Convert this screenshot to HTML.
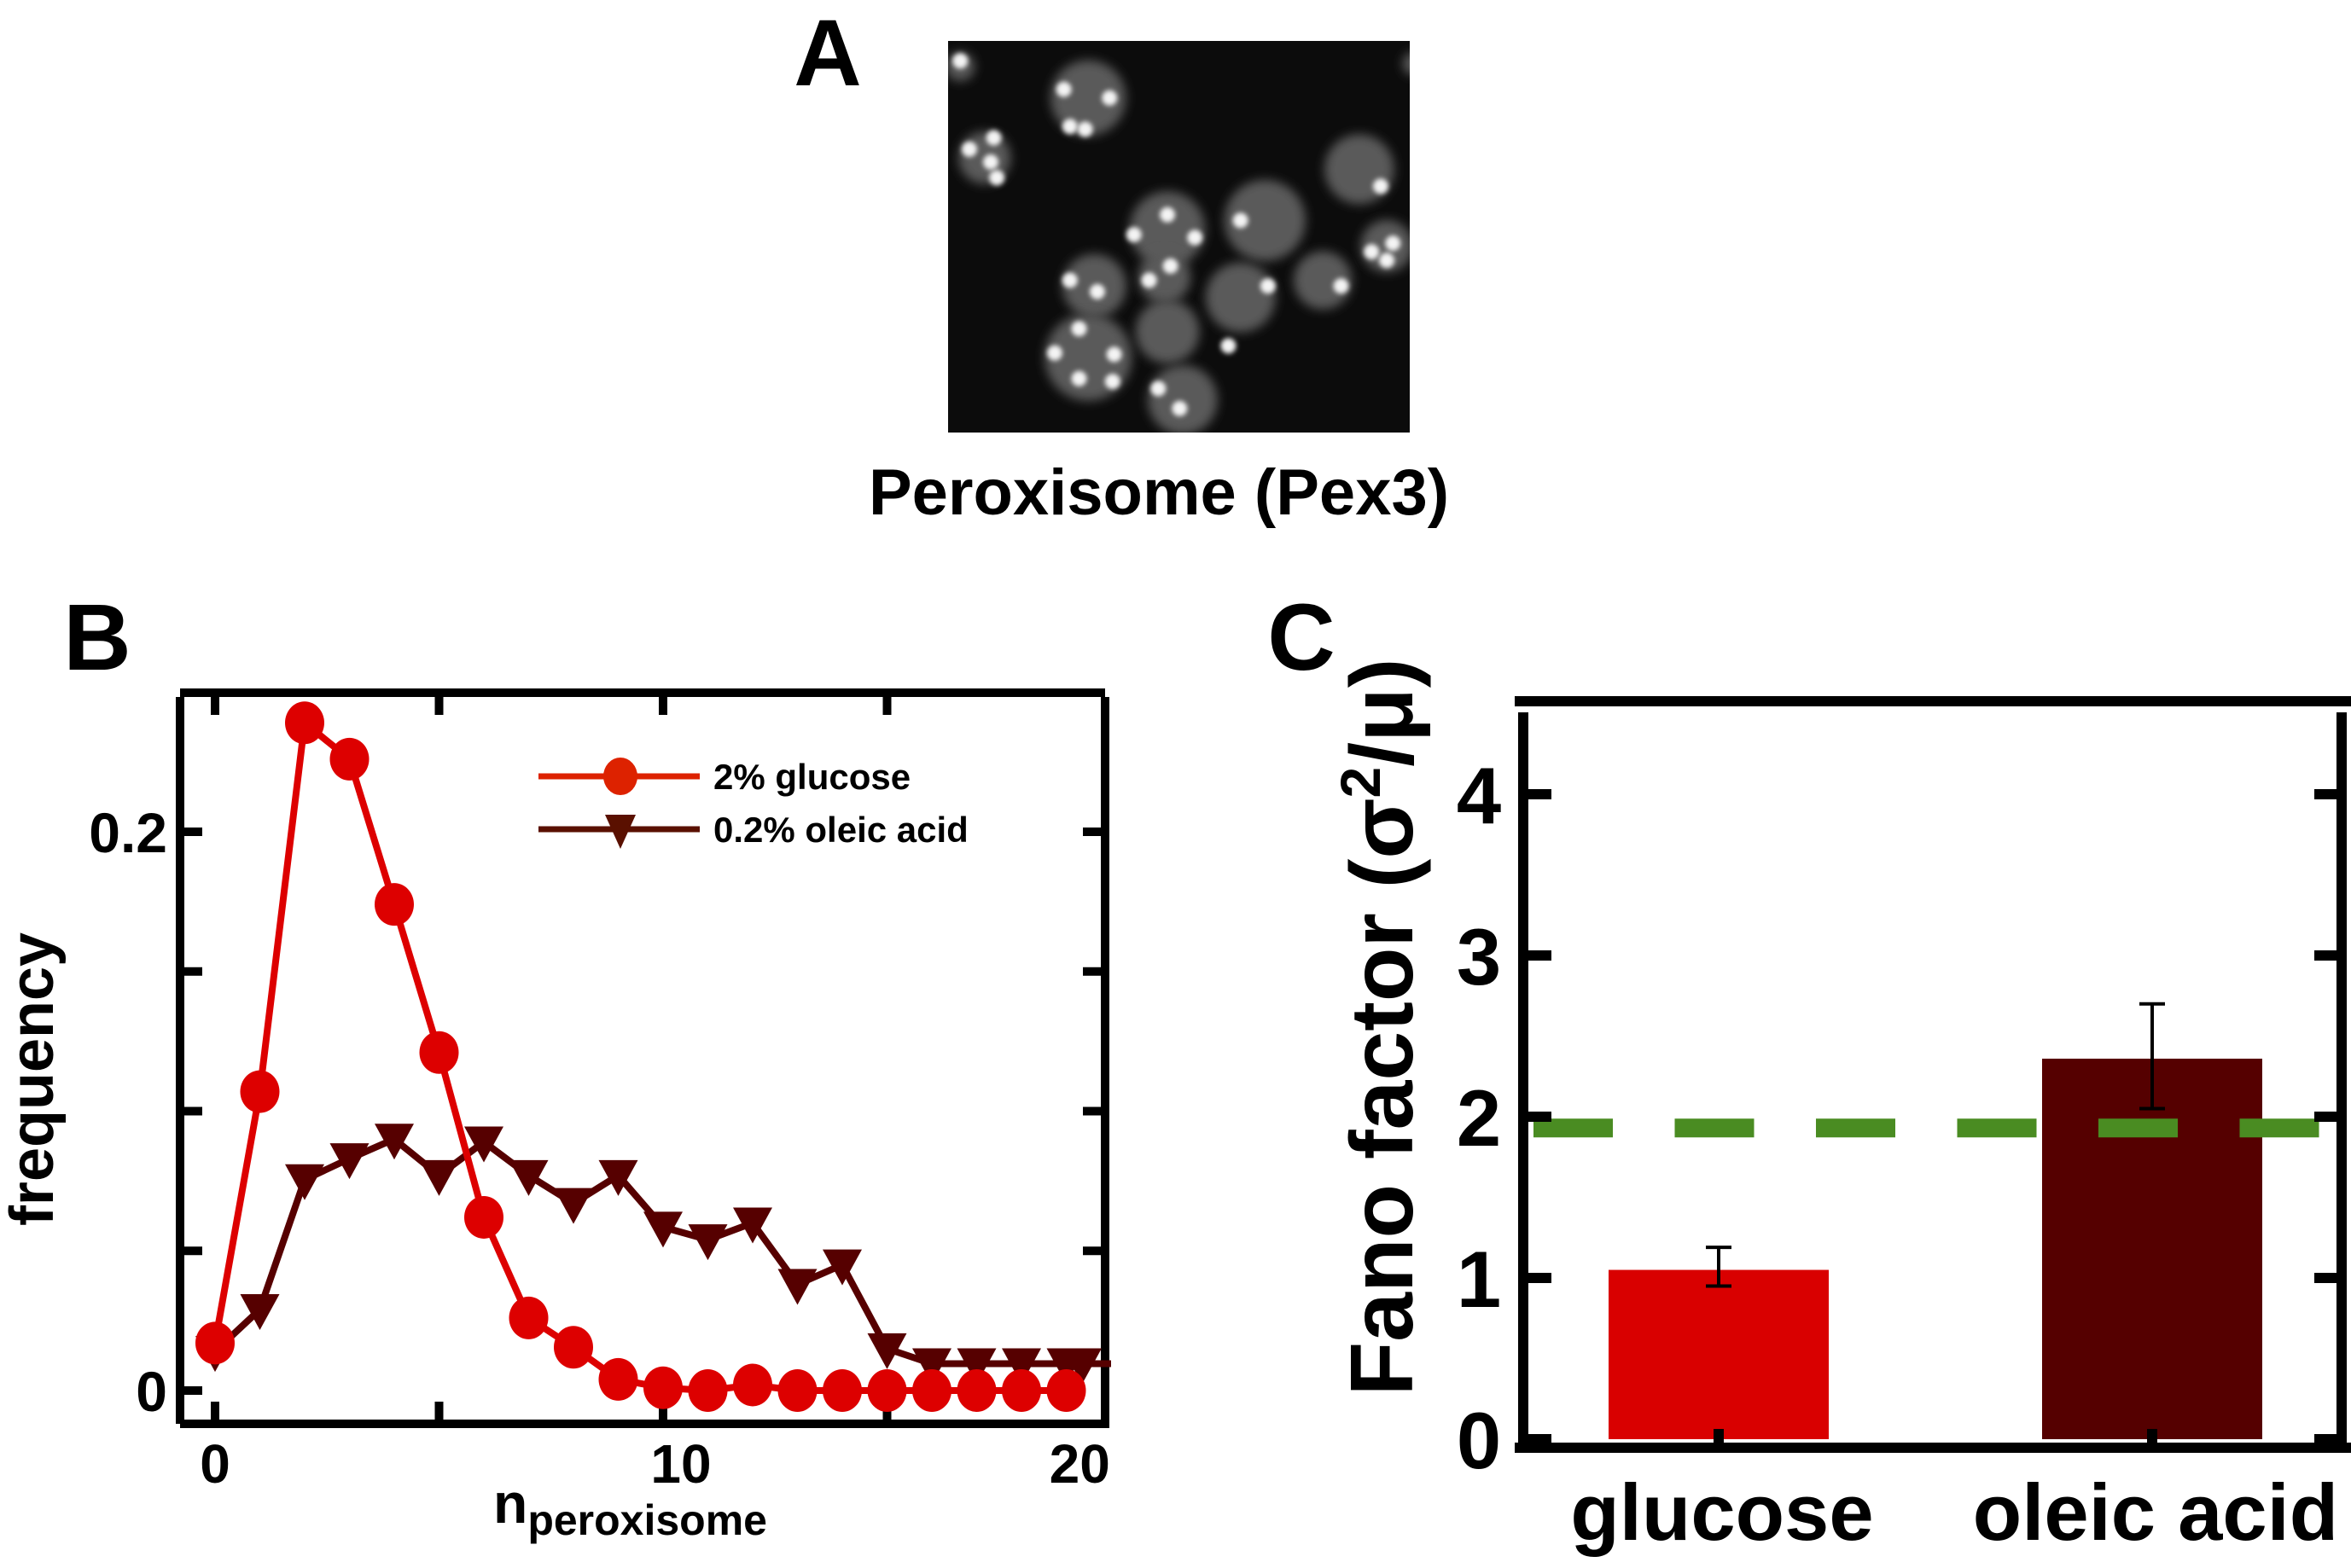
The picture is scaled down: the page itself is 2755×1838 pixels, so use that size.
<!DOCTYPE html>
<html><head><meta charset="utf-8"><style>
html,body{margin:0;padding:0;background:#fff;}
svg{display:block;font-family:"Liberation Sans",sans-serif;font-weight:bold;}
</style></head><body>
<svg id="fig" width="2755" height="1838" viewBox="0 0 2755 1838" xmlns="http://www.w3.org/2000/svg">
<text x="970" y="100" font-size="110" text-anchor="middle">A</text>
<g id="micro">
<defs><filter id="bl" x="-50%" y="-50%" width="200%" height="200%"><feGaussianBlur stdDeviation="6"/></filter>
<filter id="bl2" x="-50%" y="-50%" width="200%" height="200%"><feGaussianBlur stdDeviation="3"/></filter>
<clipPath id="imclip"><rect x="1111" y="48" width="541" height="459"/></clipPath></defs>
<rect x="1111" y="48" width="541" height="459" fill="#0c0c0c"/>
<g id="cells" clip-path="url(#imclip)"></g>
</g>
<text x="1358" y="603" font-size="76" text-anchor="middle">Peroxisome (Pex3)</text>

<text x="114" y="785" font-size="110" text-anchor="middle">B</text>
<g id="chartB"></g>

<text x="1525" y="785" font-size="110" text-anchor="middle">C</text>
<g id="chartC"></g>
</svg>
<script>
// ---- Panel B data ----
const nValues = [0,1,2,3,4,5,6,7,8,9,10,11,12,13,14,15,16,17,18,19];
const glucoseFreq = [0.017,0.107,0.239,0.226,0.174,0.121,0.062,0.026,0.0155,0.004,0.001,0,0.002,0,0,0,0,0,0,0];
const oleicN = [0,1,2,3,4,5,6,7,8,9,10,11,12,13,14,15,16,17,18,19,20];
const oleicFreq = [0.014,0.029,0.0755,0.083,0.090,0.077,0.089,0.077,0.067,0.077,0.0585,0.054,0.060,0.038,0.045,0.015,0.0096,0.0096,0.0096,0.0096,0.0096];
const bXTicks = [0,10,20];
const bXTickPos = [0,10.4,19.3];
const bYTicks = [0,0.2];
// ---- Panel C data ----
const fanoCats = ["glucose","oleic acid"];
const fanoVals = [1.05,2.36];
const fanoErrLo = [0.95,2.05];
const fanoErrHi = [1.19,2.70];
const fanoTicks = [0,1,2,3,4];
const poissonRef = 1.93;

const NS="http://www.w3.org/2000/svg";
function mk(tag,attrs,parent){const e=document.createElementNS(NS,tag);for(const k in attrs)e.setAttribute(k,attrs[k]);parent.appendChild(e);return e;}

// ---- microscopy image ----
const cellsG=document.getElementById('cells');
const cellList=[[460,200,130],[120,410,90],[1350,450,120],[1040,630,140],[720,660,130],[1440,720,90],[480,860,110],[710,830,90],[960,900,120],[1230,840,100],[720,1020,110],[460,1110,150],[770,1260,120],[40,90,50],[1530,80,40]];
const spots=[[380,170],[400,300],[450,310],[530,200],[150,340],[140,425],[160,480],[70,380],[1420,510],[720,610],[810,690],[610,680],[1460,710],[1440,770],[1390,740],[730,790],[660,840],[1050,860],[920,1070],[430,1010],[350,1095],[545,1100],[430,1185],[540,1195],[760,1290],[690,1220],[490,880],[400,840],[960,630],[1290,860],[40,70]];
cellList.forEach(c=>{const e=mk('circle',{cx:1111+c[0]*0.357,cy:48+c[1]*0.334,r:c[2]*0.34,fill:'#5a5a5a',filter:'url(#bl)'},cellsG);

});
spots.forEach(s=>{const e=mk('circle',{cx:1111+s[0]*0.357,cy:48+s[1]*0.334,r:9,fill:'#f4f4f4',filter:'url(#bl2)'},cellsG);

});

// ---- Panel B ----
const gB=document.getElementById('chartB');
const bx=v=>252+v*52.5;
const by=v=>1630-v*3275;
[[211,812,1295,812],[211,817,211,1669],[1295,817,1295,1669],[211,1669,1300,1669]].forEach(l=>{const e=mk('line',{x1:l[0],y1:l[1],x2:l[2],y2:l[3],stroke:'#000','stroke-width':10},gB);

});
[0,5,10,15].forEach(v=>{mk('line',{x1:bx(v),y1:812,x2:bx(v),y2:838,stroke:'#000','stroke-width':10},gB);mk('line',{x1:bx(v),y1:1669,x2:bx(v),y2:1643,stroke:'#000','stroke-width':10},gB);});
[0,0.05,0.1,0.15,0.2].forEach(v=>{mk('line',{x1:211,y1:by(v),x2:237,y2:by(v),stroke:'#000','stroke-width':10},gB);if(v>0)mk('line',{x1:1295,y1:by(v),x2:1269,y2:by(v),stroke:'#000','stroke-width':10},gB);});
bYTicks.forEach(v=>{const t=mk('text',{x:196,y:by(v)+24,'font-size':66,'text-anchor':'end'},gB);t.textContent=String(v);

});
bXTicks.forEach((v,i)=>{const t=mk('text',{x:bx(bXTickPos[i]),y:1738,'font-size':64,'text-anchor':'middle'},gB);t.textContent=String(v);

});
const xt=mk('text',{x:578,y:1785,'font-size':66},gB);xt.innerHTML='n<tspan font-size="50" dy="14">peroxisome</tspan>';


const yt=mk('text',{x:0,y:0,'font-size':72,'text-anchor':'middle',transform:'translate(62,1265) rotate(-90)'},gB);yt.textContent='frequency';


const op=mk('polyline',{points:oleicN.map((n,i)=>bx(n)+','+by(oleicFreq[i])).join(' '),fill:'none',stroke:'#560000','stroke-width':8},gB);


oleicN.forEach((n,i)=>{const x=Math.min(bx(n),1268),y=by(oleicFreq[i]);const t=mk('polygon',{points:`${x-23},${y-18} ${x+23},${y-18} ${x},${y+24}`,fill:'#560000'},gB);

});
const gp=mk('polyline',{points:nValues.map((n,i)=>bx(n)+','+by(glucoseFreq[i])).join(' '),fill:'none',stroke:'#dd0000','stroke-width':8},gB);


nValues.forEach((n,i)=>{const c=mk('ellipse',{cx:bx(n),cy:by(glucoseFreq[i]),rx:23,ry:25,fill:'#dd0000'},gB);

});
const lg=mk('g',{},gB);


mk('line',{x1:631,y1:910,x2:820,y2:910,stroke:'#dd2200','stroke-width':7},lg);
mk('ellipse',{cx:727,cy:910,rx:20,ry:22,fill:'#dd2200'},lg);
mk('line',{x1:631,y1:972,x2:820,y2:972,stroke:'#5a1000','stroke-width':7},lg);
mk('polygon',{points:'709,955 745,955 727,995',fill:'#5a1000'},lg);
const l1=mk('text',{x:836,y:925,'font-size':42},lg);l1.textContent='2% glucose';


const l2=mk('text',{x:836,y:987,'font-size':42},lg);l2.textContent='0.2% oleic acid';



// ---- Panel C ----
const gC=document.getElementById('chartC');
const cy=v=>1687-v*189;
const barX=[1885,2393], barW=258;
fanoVals.forEach((v,i)=>{const r=mk('rect',{x:barX[i],y:cy(v),width:barW,height:cy(0)-cy(v),fill:i==0?'#d90000':'#550000'},gC);


const cx=barX[i]+barW/2;
const eb=mk('path',{d:`M${cx},${cy(fanoErrLo[i])}V${cy(fanoErrHi[i])}M${cx-15},${cy(fanoErrLo[i])}H${cx+15}M${cx-15},${cy(fanoErrHi[i])}H${cx+15}`,stroke:'#000','stroke-width':4,fill:'none'},gC);


const t=mk('text',{x:cx+4,y:1805,'font-size':94,'text-anchor':'middle'},gC);t.textContent=fanoCats[i];


mk('line',{x1:cx,y1:1697,x2:cx,y2:1675,stroke:'#000','stroke-width':12},gC);});
const dl=mk('line',{x1:1797,y1:cy(poissonRef),x2:2718,y2:cy(poissonRef),stroke:'#4a8c22','stroke-width':22,'stroke-dasharray':'93 72.5'},gC);


[[1775,822,2755,822],[1785,835,1785,1697],[2744,835,2744,1697],[1775,1697,2755,1697]].forEach(l=>{const e=mk('line',{x1:l[0],y1:l[1],x2:l[2],y2:l[3],stroke:'#000','stroke-width':12},gC);

});
fanoTicks.forEach(v=>{mk('line',{x1:1785,y1:cy(v),x2:1818,y2:cy(v),stroke:'#000','stroke-width':12},gC);mk('line',{x1:2744,y1:cy(v),x2:2712,y2:cy(v),stroke:'#000','stroke-width':12},gC);
const t=mk('text',{x:1733,y:cy(v)+34,'font-size':94,'text-anchor':'middle'},gC);t.textContent=String(v);

});
const ct=mk('text',{x:0,y:0,'font-size':104,'text-anchor':'middle',transform:'translate(1655,1204) rotate(-90)'},gC);ct.innerHTML='Fano factor (σ<tspan font-size="66" dy="-38">2</tspan><tspan dy="38">/μ)</tspan>';


</script>
</body></html>
